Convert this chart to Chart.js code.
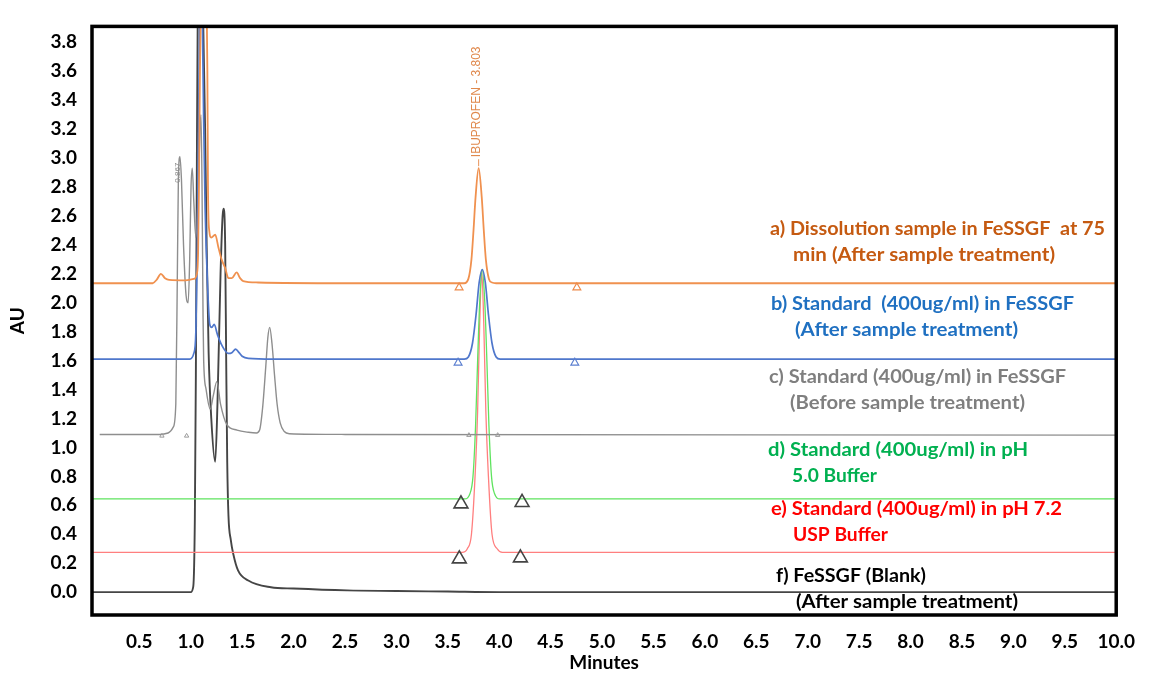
<!DOCTYPE html>
<html><head><meta charset="utf-8">
<script src="https://cdn.jsdelivr.net/npm/chart.js@4.4.0/dist/chart.umd.min.js"></script>
<style>html,body{margin:0;padding:0;background:#fff;}#wrap{width:1150px;height:674px;}</style>
</head><body><div id="wrap"><canvas id="c" width="1150" height="674"></canvas></div>
<script>
// ---- tick labels ----
const xTicks = [0.5,1.0,1.5,2.0,2.5,3.0,3.5,4.0,4.5,5.0,5.5,6.0,6.5,7.0,7.5,8.0,8.5,9.0,9.5,10.0];
const yTicks = [0.0,0.2,0.4,0.6,0.8,1.0,1.2,1.4,1.6,1.8,2.0,2.2,2.4,2.6,2.8,3.0,3.2,3.4,3.6,3.8];

// ---- a) Dissolution sample in FeSSGF at 75 min (orange) ----
const aTime = [0.04,0.63,0.67,0.71,0.75,0.79,0.95,1.03,1.06,1.072,1.08,1.09,1.105,1.125,1.15,1.162,1.168,1.18,1.20,1.238,1.27,1.30,1.335,1.367,1.40,1.447,1.48,1.51,1.655,2.5,3.66,3.70,3.73,3.75,3.77,3.80,3.83,3.85,3.87,3.90,3.93,3.97,10.0];
const aAU   = [2.135,2.135,2.16,2.20,2.17,2.158,2.155,2.165,2.2,2.35,2.8,3.6,4.4,4.6,4.4,3.6,2.8,2.5,2.45,2.47,2.38,2.30,2.24,2.17,2.17,2.21,2.17,2.15,2.14,2.135,2.135,2.165,2.30,2.50,2.73,2.93,2.73,2.50,2.30,2.165,2.14,2.135,2.135];

// ---- b) Standard in FeSSGF after treatment (blue) ----
const bTime = [0.04,0.99,1.03,1.05,1.065,1.08,1.095,1.11,1.125,1.14,1.165,1.185,1.205,1.228,1.26,1.30,1.366,1.40,1.437,1.47,1.50,1.56,1.8,3.66,3.70,3.74,3.775,3.805,3.835,3.865,3.895,3.93,3.97,4.01,10.0];
const bAU   = [1.61,1.61,1.65,1.8,2.4,3.5,4.3,4.1,3.3,2.65,2.1,1.85,1.83,1.85,1.78,1.71,1.65,1.655,1.68,1.655,1.63,1.615,1.61,1.61,1.625,1.72,1.92,2.14,2.23,2.14,1.92,1.72,1.625,1.61,1.61];

// ---- c) Standard in FeSSGF before treatment (gray) ----
const cTime = [0.115,0.70,0.78,0.83,0.855,0.87,0.88,0.895,0.91,0.93,0.955,0.975,0.99,1.003,1.015,1.03,1.05,1.07,1.09,1.10,1.11,1.12,1.126,1.15,1.19,1.22,1.254,1.29,1.35,1.45,1.56,1.64,1.67,1.70,1.73,1.75,1.768,1.79,1.815,1.84,1.87,1.91,1.96,2.5,10.0];
const cAU   = [1.09,1.09,1.10,1.14,1.3,2.2,2.85,3.01,2.85,2.4,2.05,2.0,2.3,2.8,2.93,2.7,2.45,2.7,3.2,3.3,2.8,1.9,1.6,1.4,1.265,1.36,1.455,1.3,1.16,1.12,1.105,1.10,1.12,1.28,1.56,1.76,1.83,1.72,1.5,1.3,1.17,1.11,1.095,1.09,1.085];

// ---- d) Standard in pH 5.0 buffer (green) ----
const dTime = [0.04,3.665,3.715,3.745,3.77,3.79,3.81,3.835,3.86,3.88,3.90,3.925,3.955,4.005,10.0];
const dAU   = [0.645,0.645,0.68,0.80,1.15,1.6,2.0,2.23,2.0,1.6,1.15,0.80,0.68,0.645,0.645];

// ---- e) Standard in pH 7.2 USP buffer (red) ----
const eTime = [0.04,3.64,3.69,3.73,3.765,3.79,3.81,3.83,3.85,3.87,3.895,3.93,3.98,4.03,10.0];
const eAU   = [0.275,0.275,0.30,0.40,0.80,1.25,1.85,2.22,1.85,1.25,0.80,0.40,0.30,0.275,0.275];

// ---- f) FeSSGF blank (black) ----
const fTime = [0.04,1.0,1.025,1.04,1.05,1.06,1.07,1.085,1.10,1.12,1.14,1.155,1.174,1.20,1.238,1.26,1.29,1.31,1.32,1.335,1.345,1.355,1.367,1.39,1.415,1.46,1.56,1.78,2.0,2.52,3.0,3.5,4.0,10.0];
const fAU   = [0.0,0.0,0.04,0.5,1.5,3.0,4.2,4.6,4.5,4.0,3.2,2.4,1.66,1.2,0.90,1.3,2.2,2.6,2.65,2.4,1.6,0.9,0.53,0.36,0.26,0.15,0.08,0.034,0.025,0.012,0.008,0.004,0.0,0.0];

// ---- integration markers ----
const mkOrangeTime = [3.61,4.755];  const mkOrangeAU = [2.105,2.105];
const mkBlueTime   = [3.60,4.735];  const mkBlueAU   = [1.585,1.585];
const mkBlackTime  = [3.628,4.222,3.612,4.206]; const mkBlackAU = [0.61,0.62,0.23,0.237];
const mkGrayTime   = [0.72,0.96,3.705,3.985]; const mkGrayAU = [1.08,1.08,1.085,1.085];

const pts = (t, v) => t.map((x, i) => ({x: x, y: v[i]}));

const notes = [
  {text:'a) Dissolution sample in FeSSGF  at 75', x:770, y:229, w:335, color:'#C55A11'},
  {text:'min (After sample treatment)',           x:793, y:255, w:262, color:'#C55A11'},
  {text:'b) Standard  (400ug/ml) in FeSSGF',      x:771, y:304, w:303, color:'#1F70C1'},
  {text:'(After sample treatment)',               x:795, y:330, w:223, color:'#1F70C1'},
  {text:'c) Standard (400ug/ml) in FeSSGF',       x:769, y:377, w:297, color:'#7F7F7F'},
  {text:'(Before sample treatment)',              x:790, y:403, w:235, color:'#7F7F7F'},
  {text:'d) Standard (400ug/ml) in pH',           x:768, y:450, w:260, color:'#00B050'},
  {text:'5.0 Buffer',                             x:792, y:476, w:85,  color:'#00B050'},
  {text:'e) Standard (400ug/ml) in pH 7.2',       x:771, y:509, w:291, color:'#FF0000'},
  {text:'USP Buffer',                             x:793, y:535, w:95,  color:'#FF0000'},
  {text:'f) FeSSGF (Blank)',                      x:776, y:576, w:150, color:'#000000'},
  {text:'(After sample treatment)',               x:796, y:602, w:222, color:'#000000'}
];

const FONT = 'Lato, "Open Sans", sans-serif';

const framePlugin = {
  id: 'frame',
  afterDatasetsDraw(chart) {
    const {ctx, chartArea: a, scales} = chart;
    ctx.save();
    const px = scales.x.getPixelForValue(3.80), py = scales.y.getPixelForValue(2.93);
    ctx.strokeStyle = '#E8935A'; ctx.lineWidth = 1;
    ctx.beginPath(); ctx.moveTo(px, py - 2); ctx.lineTo(px, py - 9); ctx.stroke();
    ctx.fillStyle = '#E0894D';
    ctx.font = '12px "Liberation Sans", Arial, sans-serif';
    ctx.translate(px - 2, py - 11); ctx.rotate(-Math.PI / 2);
    ctx.textAlign = 'left'; ctx.textBaseline = 'middle';
    ctx.fillText('IBUPROFEN - 3.803', 0, 0);
    ctx.restore();
    ctx.save();
    const gx = scales.x.getPixelForValue(0.89), gy = scales.y.getPixelForValue(3.01);
    ctx.fillStyle = '#8a8a8a'; ctx.font = '8px "Liberation Sans", Arial, sans-serif';
    ctx.translate(gx - 2, gy + 6); ctx.rotate(-Math.PI / 2);
    ctx.textAlign = 'right'; ctx.textBaseline = 'middle';
    ctx.fillText('0.867', 0, 0);
    ctx.restore();
    ctx.save();
    ctx.strokeStyle = '#000'; ctx.lineWidth = 3.5;
    ctx.strokeRect(a.left, a.top, a.right - a.left, a.bottom - a.top);
    ctx.restore();
    ctx.save();
    ctx.font = 'bold 19px ' + FONT;
    ctx.textBaseline = 'middle'; ctx.textAlign = 'left';
    notes.forEach(n => {
      const m = ctx.measureText(n.text).width;
      ctx.save();
      ctx.translate(n.x, n.y);
      ctx.scale(n.w / m, 1);
      ctx.fillStyle = n.color;
      ctx.fillText(n.text, 0, 0);
      ctx.restore();
    });
    ctx.restore();
  }
};

const lineDs = (label, t, v, color, width) => ({
  label: label, data: pts(t, v), borderColor: color, borderWidth: width,
  pointRadius: 0, fill: false, cubicInterpolationMode: 'monotone'
});
const markDs = (label, t, v, color, r, w) => ({
  label: label, data: pts(t, v), showLine: false, pointStyle: 'triangle',
  pointRadius: r, pointBorderColor: color, pointBackgroundColor: 'rgba(255,255,255,0)',
  pointBorderWidth: w, borderColor: color
});

const tickFont = {family: FONT, weight: 'bold', size: 19};

new Chart(document.getElementById('c'), {
  type: 'line',
  data: {
    datasets: [
      markDs('mo', mkOrangeTime, mkOrangeAU, '#EE8A4A', 4.5, 1.2),
      markDs('mb', mkBlueTime, mkBlueAU, '#5B7FD0', 4.5, 1.2),
      markDs('mk', mkBlackTime, mkBlackAU, '#444444', 8, 1.6),
      markDs('mg', mkGrayTime, mkGrayAU, '#9a9a9a', 2.5, 1),
      lineDs('a', aTime, aAU, '#F0914F', 1.8),
      lineDs('b', bTime, bAU, '#4F77CC', 1.7),
      lineDs('c', cTime, cAU, '#8E8E8E', 1.4),
      lineDs('d', dTime, dAU, '#5FE35F', 1.3),
      lineDs('e', eTime, eAU, '#FF7F7F', 1.3),
      lineDs('f', fTime, fAU, '#454545', 1.9)
    ]
  },
  options: {
    responsive: false, animation: false, devicePixelRatio: 1,
    layout: {padding: {left: 0, top: 14, right: 22, bottom: 0}},
    plugins: {legend: {display: false}, tooltip: {enabled: false}},
    scales: {
      x: {
        type: 'linear', min: 0.04, max: 10.0,
        afterBuildTicks: s => { s.ticks = xTicks.map(v => ({value: v})); },
        afterFit: s => { s.height = 59; },
        grid: {display: false, drawTicks: false}, border: {display: false},
        ticks: {font: tickFont, color: '#000', padding: 15, maxRotation: 0, autoSkip: false,
                callback: v => Number(v).toFixed(1)},
        title: {display: true, text: 'Minutes', color: '#000', font: tickFont, padding: {top: 0, bottom: 0}}
      },
      y: {
        type: 'linear', min: -0.158, max: 3.91,
        afterBuildTicks: s => { s.ticks = yTicks.map(v => ({value: v})); },
        afterFit: s => { s.width = 92; },
        grid: {display: false, drawTicks: false}, border: {display: false},
        ticks: {font: tickFont, color: '#000', padding: 15, autoSkip: false,
                callback: v => Number(v).toFixed(1)},
        title: {display: true, text: 'AU', color: '#000', font: tickFont, padding: {top: 6, bottom: 0}}
      }
    }
  },
  plugins: [framePlugin]
});
</script></body></html>
